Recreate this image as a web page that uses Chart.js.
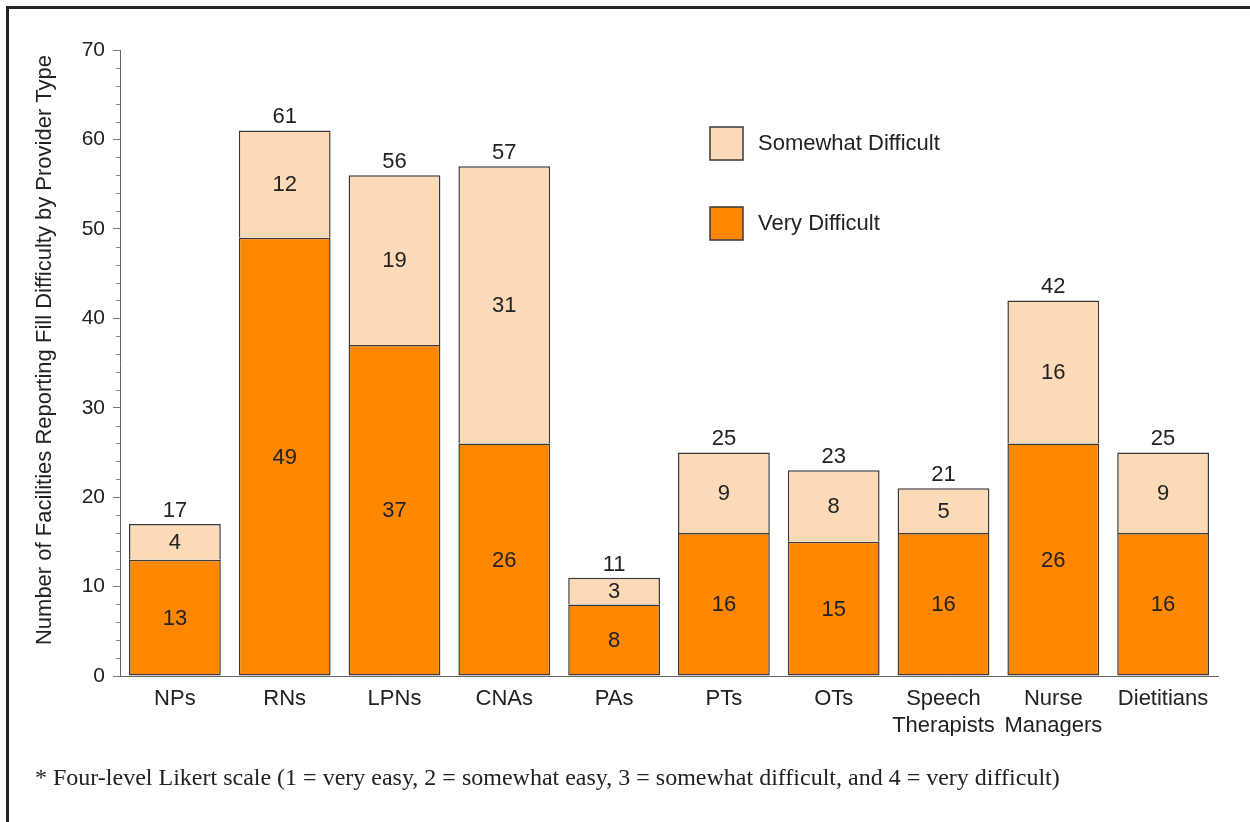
<!DOCTYPE html>
<html>
<head>
<meta charset="utf-8">
<script src="https://cdn.jsdelivr.net/npm/chart.js@4/dist/chart.umd.min.js"></script>
<style>
  html, body { margin: 0; padding: 0; background: #fff; }
  #wrap { position: relative; width: 1250px; height: 822px; overflow: hidden; background: #fff; }
  #frame { position: absolute; left: 6px; top: 6px; width: 1300px; height: 900px; border-top: 3px solid #222; border-left: 3px solid #222; pointer-events: none; }
  #note { position: absolute; left: 35px; top: 764px; font-family: "Liberation Serif", "Times New Roman", serif; font-size: 24px; color: #222; white-space: nowrap; }
  canvas { position: absolute; left: 0; top: 0; }
</style>
</head>
<body>
<div id="wrap">
  <canvas id="c" width="1250" height="822"></canvas>
  <div id="frame"></div>
  <div id="note">* Four-level Likert scale (1 = very easy, 2 = somewhat easy, 3 = somewhat difficult, and 4 = very difficult)</div>
</div>
<script>
const categories = ["NPs", "RNs", "LPNs", "CNAs", "PAs", "PTs", "OTs", ["Speech", "Therapists"], ["Nurse", "Managers"], "Dietitians"];
const veryDifficult = [13, 49, 37, 26, 8, 16, 15, 16, 26, 16];
const somewhatDifficult = [4, 12, 19, 31, 3, 9, 8, 5, 16, 9];
const totals = [17, 61, 56, 57, 11, 25, 23, 21, 42, 25];
const yTicks = [0, 10, 20, 30, 40, 50, 60, 70];
const yTitle = "Number of Facilities Reporting Fill Difficulty by Provider Type";

const FONT = "'Liberation Sans', Arial, Helvetica, sans-serif";
const ORANGE = "#FF8700";
const PEACH = "#FCDAB8";
const EDGE = "#3a3a3a";

const labelPlugin = {
  id: "labels",
  afterDatasetsDraw(chart) {
    const ctx = chart.ctx;
    ctx.save();
    ctx.font = "22px " + FONT;
    ctx.fillStyle = "#222";
    ctx.textAlign = "center";
    ctx.textBaseline = "middle";
    chart.data.datasets.forEach((ds, di) => {
      const meta = chart.getDatasetMeta(di);
      meta.data.forEach((el, i) => {
        ctx.fillText(String(ds.data[i]), el.x, (el.y + el.base) / 2 + 1);
      });
    });
    const top = chart.getDatasetMeta(chart.data.datasets.length - 1);
    ctx.textBaseline = "alphabetic";
    top.data.forEach((el, i) => {
      ctx.fillText(String(totals[i]), el.x, el.y - 7);
    });
    ctx.restore();
  }
};

const minorTicks = {
  id: "minorTicks",
  afterDraw(chart) {
    const s = chart.scales.y;
    const ctx = chart.ctx;
    ctx.save();
    ctx.strokeStyle = "#888";
    ctx.lineWidth = 1;
    for (let v = 0; v <= 70; v += 2) {
      if (v % 10 === 0) continue;
      const y = Math.round(s.getPixelForValue(v)) + 0.5;
      ctx.beginPath();
      ctx.moveTo(s.right - 4, y);
      ctx.lineTo(s.right, y);
      ctx.stroke();
    }
    ctx.restore();
  }
};

const yTitlePlugin = {
  id: "yTitle",
  afterDraw(chart) {
    const ctx = chart.ctx;
    ctx.save();
    ctx.translate(45, 350);
    ctx.rotate(-Math.PI / 2);
    ctx.font = "22px " + FONT;
    ctx.fillStyle = "#222";
    ctx.textAlign = "center";
    ctx.textBaseline = "middle";
    ctx.fillText(yTitle, 0, 0);
    ctx.restore();
  }
};

const legendPlugin = {
  id: "customLegend",
  afterDraw(chart) {
    const ctx = chart.ctx;
    const items = [chart.data.datasets[1], chart.data.datasets[0]];
    ctx.save();
    items.forEach((ds, k) => {
      const x = 710, y = 127 + k * 80;
      ctx.fillStyle = ds.backgroundColor;
      ctx.fillRect(x, y, 33, 33);
      ctx.strokeStyle = EDGE;
      ctx.lineWidth = 1.5;
      ctx.strokeRect(x, y, 33, 33);
      ctx.fillStyle = "#222";
      ctx.font = "22px " + FONT;
      ctx.textAlign = "left";
      ctx.textBaseline = "middle";
      ctx.fillText(ds.label, 758, y + 17);
    });
    ctx.restore();
  }
};

new Chart(document.getElementById("c"), {
  type: "bar",
  data: {
    labels: categories,
    datasets: [
      { label: "Very Difficult", data: veryDifficult, backgroundColor: ORANGE, borderColor: EDGE, borderWidth: 1.5, borderSkipped: false },
      { label: "Somewhat Difficult", data: somewhatDifficult, backgroundColor: PEACH, borderColor: EDGE, borderWidth: 1.5, borderSkipped: "bottom" }
    ]
  },
  options: {
    responsive: false,
    animation: false,
    layout: { padding: { left: 0, top: 50, right: 32, bottom: 86 } },
    datasets: { bar: { barPercentage: 0.836, categoryPercentage: 1.0 } },
    plugins: { legend: { display: false }, tooltip: { enabled: false } },
    scales: {
      x: {
        stacked: true,
        grid: { display: false, drawTicks: false },
        border: { display: true, color: "#666", width: 1 },
        ticks: { color: "#222", font: { family: FONT, size: 22, lineHeight: 1.2 }, padding: 10, maxRotation: 0, autoSkip: false },
        afterFit(s) { s.height = 60; }
      },
      y: {
        stacked: true,
        min: 0, max: 70,
        afterBuildTicks(s) { s.ticks = yTicks.map(v => ({ value: v })); },
        grid: { drawOnChartArea: false, drawTicks: true, tickLength: 7, color: "#777" },
        border: { display: true, color: "#666", width: 1 },
        ticks: { color: "#222", font: { family: FONT, size: 21 }, padding: 8 },
        title: { display: false },
        afterFit(s) { s.width = 120; }
      }
    }
  },
  plugins: [labelPlugin, minorTicks, yTitlePlugin, legendPlugin]
});
</script>
</body>
</html>
